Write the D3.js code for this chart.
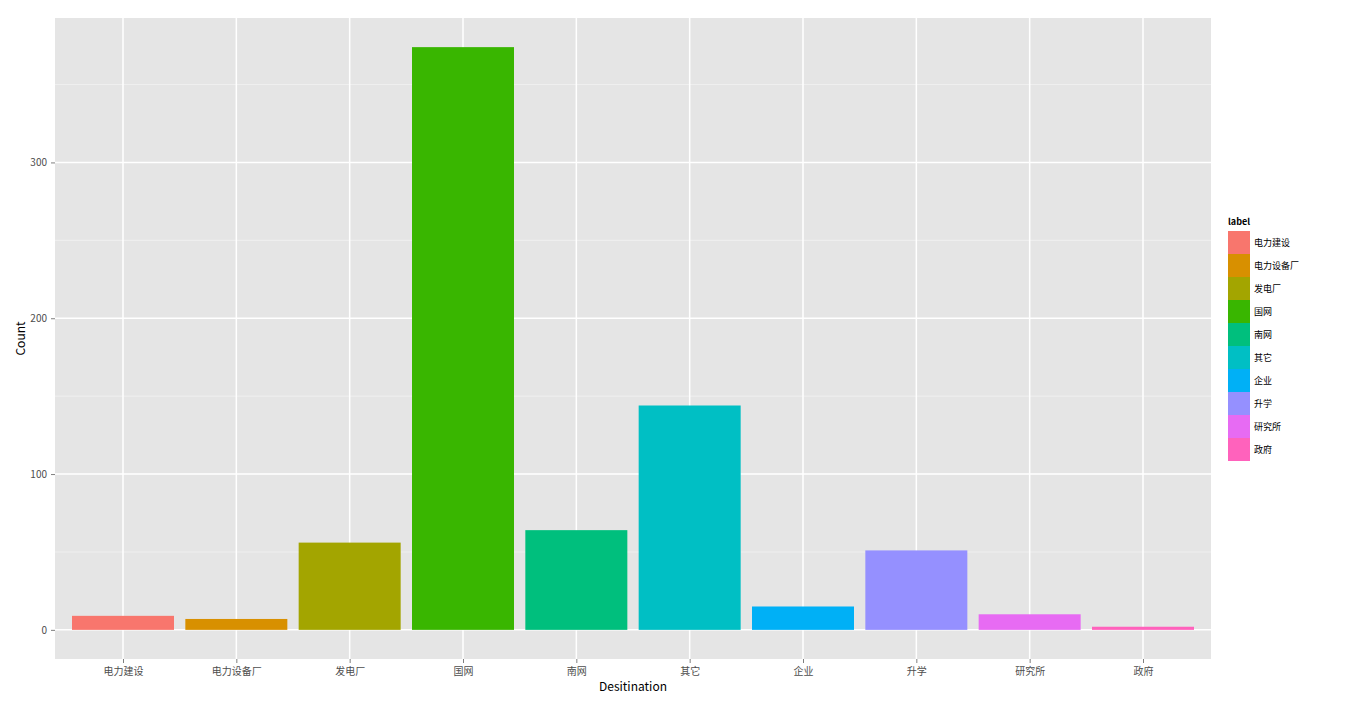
<!DOCTYPE html>
<html><head><meta charset="utf-8">
<script src="https://cdn.jsdelivr.net/npm/d3@7"></script>
<style>body{margin:0;background:#fff;}</style>
</head><body><div id="chart"></div>
<script>
const categories = ["电力建设","电力设备厂","发电厂","国网","南网","其它","企业","升学","研究所","政府"];
const counts = [9, 7, 56, 374, 64, 144, 15, 51, 10, 2];
const colors = ["#F8766D","#D89000","#A3A500","#39B600","#00BF7D","#00BFC4","#00B0F6","#9590FF","#E76BF3","#FF62BC"];
const yTicks = [0, 100, 200, 300];
const yMinor = [50, 150, 250, 350];

const W = 1366, H = 704;
const panel = {left: 55, right: 1211, top: 18, bottom: 659};
const font = "'Noto Sans CJK SC', 'DejaVu Sans', sans-serif";

const svg = d3.select("#chart").append("svg").attr("width", W).attr("height", H)
    .attr("font-family", font);

const step = (panel.right - panel.left) / 10.2;
const x = d3.scalePoint().domain(categories)
    .range([panel.left + 0.6 * step, panel.right - 0.6 * step]);
const y = d3.scaleLinear().domain([-18.7, 392.7]).range([panel.bottom, panel.top]);

svg.append("rect").attr("x", panel.left).attr("y", panel.top)
    .attr("width", panel.right - panel.left).attr("height", panel.bottom - panel.top)
    .attr("fill", "#E5E5E5");

// grid
svg.selectAll(".minor").data(yMinor).join("line")
    .attr("x1", panel.left).attr("x2", panel.right)
    .attr("y1", d => y(d)).attr("y2", d => y(d))
    .attr("stroke", "#F2F2F2").attr("stroke-width", 0.8);
svg.selectAll(".major").data(yTicks).join("line")
    .attr("x1", panel.left).attr("x2", panel.right)
    .attr("y1", d => y(d)).attr("y2", d => y(d))
    .attr("stroke", "#fff").attr("stroke-width", 1.5);
svg.selectAll(".vgrid").data(categories).join("line")
    .attr("x1", d => x(d)).attr("x2", d => x(d))
    .attr("y1", panel.top).attr("y2", panel.bottom)
    .attr("stroke", "#fff").attr("stroke-width", 1.5);

// bars
const bw = step * 0.9;
svg.selectAll(".bar").data(categories).join("rect")
    .attr("x", d => x(d) - bw / 2)
    .attr("width", bw)
    .attr("y", (d, i) => y(counts[i]))
    .attr("height", (d, i) => y(0) - y(counts[i]))
    .attr("fill", (d, i) => colors[i]);

// axes
const yAxis = svg.append("g").attr("transform", `translate(${panel.left},0)`)
    .call(d3.axisLeft(y).tickValues(yTicks).tickSize(4).tickPadding(4));
const xAxis = svg.append("g").attr("transform", `translate(0,${panel.bottom})`)
    .call(d3.axisBottom(x).tickSize(4).tickPadding(5));
[yAxis, xAxis].forEach(a => {
    a.select(".domain").remove();
    a.selectAll(".tick line").attr("stroke", "#7F7F7F");
    a.selectAll(".tick text").attr("fill", "#4D4D4D").attr("font-size", 10).attr("font-family", font);
});

svg.append("text").attr("x", (panel.left + panel.right) / 2).attr("y", 691)
    .attr("text-anchor", "middle").attr("font-size", 12).text("Desitination");
svg.append("text").attr("transform", `translate(25,${(panel.top + panel.bottom) / 2}) rotate(-90)`)
    .attr("text-anchor", "middle").attr("font-size", 12).text("Count");

// legend
const lg = svg.append("g").attr("transform", "translate(1228,231)");
lg.append("text").attr("x", 0).attr("y", -6).attr("font-size", 9).attr("font-weight", "bold").text("label");
const key = lg.selectAll(".key").data(categories).join("g")
    .attr("transform", (d, i) => `translate(0,${i * 23})`);
key.append("rect").attr("width", 22).attr("height", 23).attr("fill", (d, i) => colors[i]);
key.append("text").attr("x", 26).attr("y", 15).attr("font-size", 9).text(d => d);
</script></body></html>
